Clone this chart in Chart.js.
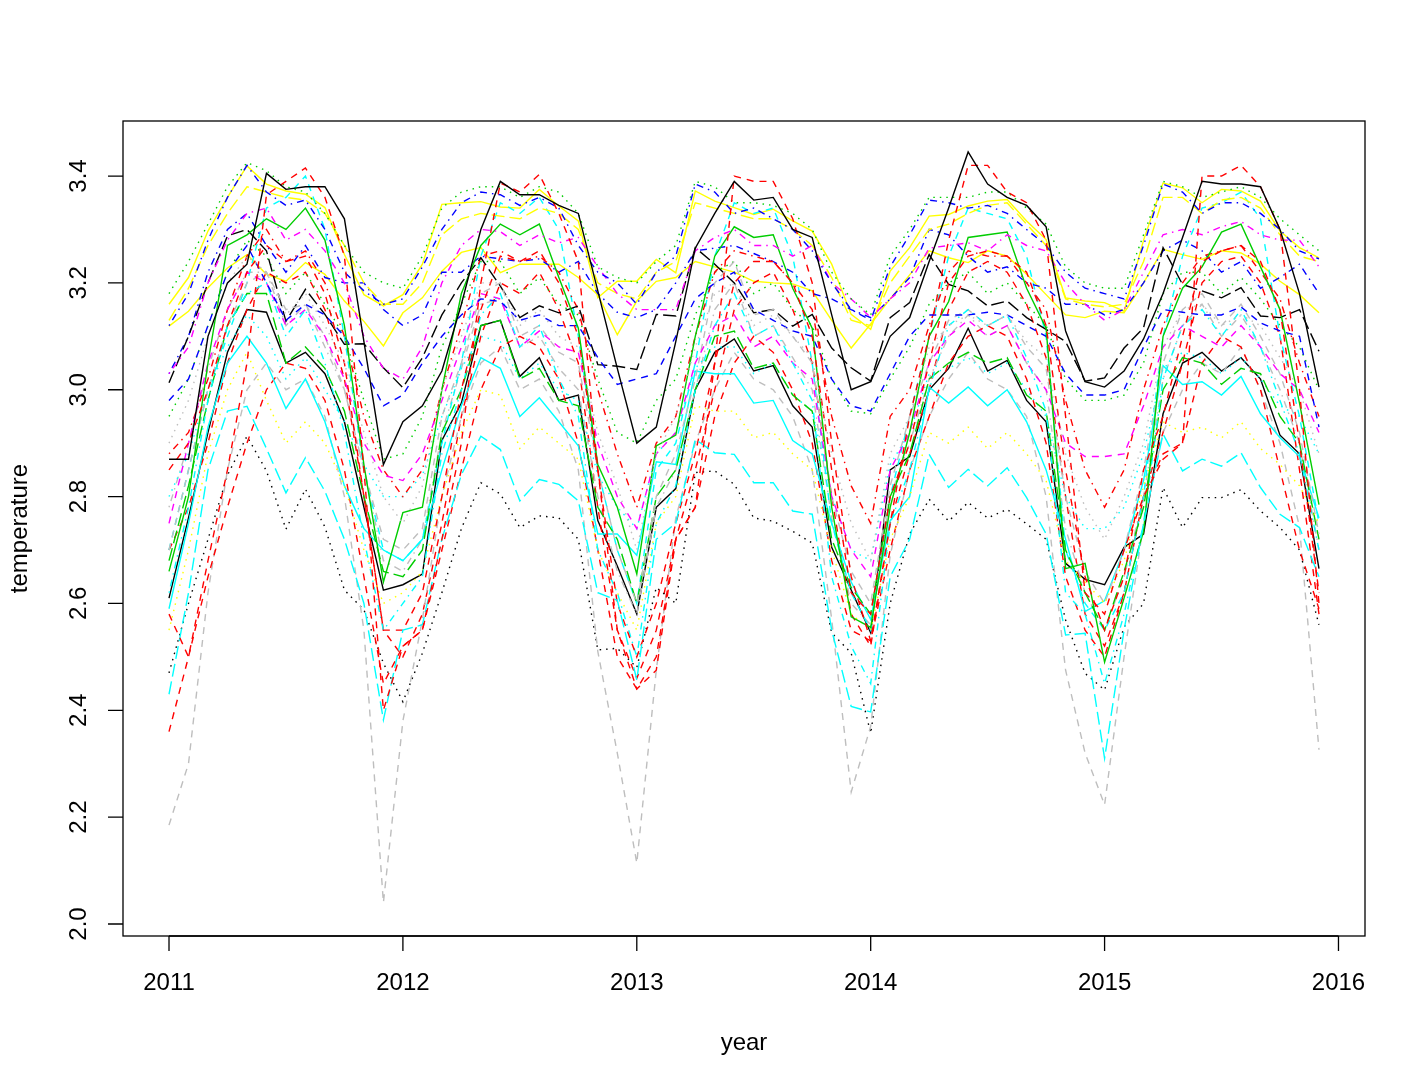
<!DOCTYPE html>
<html>
<head>
<meta charset="utf-8">
<script src="https://cdn.jsdelivr.net/npm/chart.js@4.4.1/dist/chart.umd.min.js"></script>
<style>
html,body{margin:0;padding:0;background:#fff;}
#wrap{width:1428px;height:1090px;}
</style>
</head>
<body>
<div id="wrap"><canvas id="c" width="1428" height="1090"></canvas></div>
<script>
// ---- data (monthly, Jan 2011 .. Dec 2015) ----
const startYear = 2011;
const nMonths = 60;
const xTicks = [2011, 2012, 2013, 2014, 2015, 2016];
const yTicks = [2.0, 2.2, 2.4, 2.6, 2.8, 3.0, 3.2, 3.4];
const xLabel = "year";
const yLabel = "temperature";

const blackSolidHi = [
2.87,2.87,3.10,3.20,3.235,3.405,3.375,3.38,3.38,3.32,3.09,2.86,
2.94,2.97,3.035,3.16,3.30,3.39,3.365,3.365,3.345,3.33,3.185,3.04,
2.90,2.93,3.09,3.265,3.33,3.39,3.355,3.36,3.30,3.285,3.14,3.00,
3.015,3.10,3.135,3.24,3.34,3.445,3.385,3.36,3.345,3.305,3.11,3.015,
3.005,3.035,3.095,3.18,3.285,3.39,3.385,3.385,3.38,3.30,3.18,3.005];
const blackSolidLo = [
2.61,2.76,2.92,3.07,3.15,3.145,3.05,3.07,3.03,2.94,2.78,2.625,
2.635,2.655,2.905,2.975,3.12,3.13,3.025,3.06,2.98,2.99,2.755,2.67,
2.58,2.78,2.815,3.00,3.07,3.095,3.035,3.045,2.97,2.93,2.705,2.625,
2.545,2.85,2.875,3.00,3.04,3.115,3.035,3.055,2.98,2.94,2.675,2.645,
2.635,2.705,2.73,2.955,3.05,3.07,3.035,3.06,3.02,2.915,2.88,2.665];
const greenSolid = [
2.66,2.80,3.05,3.27,3.29,3.32,3.30,3.34,3.28,3.12,2.86,2.64,
2.77,2.78,3.00,3.18,3.27,3.31,3.29,3.31,3.21,3.115,2.86,2.78,
2.655,2.895,2.915,3.10,3.25,3.305,3.285,3.29,3.19,3.115,2.78,2.575,
2.555,2.78,2.92,3.10,3.165,3.285,3.29,3.295,3.19,3.115,2.665,2.675,
2.49,2.61,2.735,3.10,3.19,3.23,3.295,3.31,3.23,3.15,2.975,2.785];
const cyanSolid = [
2.59,2.75,2.93,3.05,3.10,3.05,2.965,3.02,2.94,2.82,2.74,2.70,
2.68,2.72,2.85,2.97,3.06,3.04,2.95,2.985,2.94,2.895,2.73,2.73,
2.69,2.865,2.86,3.035,3.03,3.03,2.975,2.98,2.905,2.88,2.75,2.64,
2.57,2.755,2.80,3.005,2.975,3.005,2.97,3.00,2.94,2.85,2.72,2.585,
2.605,2.70,2.83,3.045,3.01,3.015,2.99,3.025,2.955,2.91,2.875,2.76];
const yellowSolidHi = [
3.16,3.21,3.297,3.36,3.419,3.385,3.372,3.366,3.341,3.253,3.178,3.157,
3.178,3.235,3.347,3.35,3.352,3.342,3.34,3.375,3.344,3.316,3.172,3.203,
3.203,3.244,3.219,3.372,3.353,3.341,3.328,3.338,3.316,3.297,3.235,3.141,
3.113,3.222,3.266,3.325,3.328,3.344,3.353,3.356,3.316,3.281,3.172,3.166,
3.163,3.147,3.28,3.387,3.378,3.35,3.375,3.372,3.353,3.297,3.266,3.247];
const yellowSolidLo = [
3.119,3.147,3.191,3.228,3.253,3.216,3.203,3.238,3.216,3.166,3.128,3.082,
3.144,3.172,3.222,3.257,3.266,3.219,3.235,3.235,3.235,3.21,3.178,3.103,
3.166,3.203,3.21,3.24,3.23,3.22,3.203,3.20,3.198,3.185,3.13,3.078,
3.123,3.17,3.215,3.26,3.247,3.238,3.26,3.25,3.216,3.178,3.14,3.135,
3.147,3.144,3.20,3.263,3.253,3.244,3.26,3.256,3.235,3.203,3.178,3.144];
const yellowDash = [
3.13,3.19,3.27,3.33,3.38,3.37,3.36,3.355,3.33,3.27,3.20,3.16,
3.16,3.20,3.29,3.32,3.33,3.325,3.32,3.34,3.33,3.30,3.20,3.18,
3.17,3.22,3.24,3.35,3.34,3.33,3.32,3.32,3.30,3.27,3.21,3.13,
3.12,3.20,3.25,3.30,3.31,3.33,3.345,3.35,3.31,3.27,3.17,3.16,
3.155,3.16,3.24,3.36,3.36,3.33,3.355,3.36,3.34,3.29,3.25,3.24];
const blueDotDashHi = [
3.12,3.18,3.28,3.36,3.42,3.37,3.345,3.355,3.30,3.22,3.185,3.16,
3.17,3.23,3.30,3.35,3.37,3.365,3.345,3.36,3.34,3.27,3.22,3.20,
3.16,3.22,3.25,3.385,3.37,3.33,3.34,3.32,3.30,3.26,3.20,3.15,
3.13,3.23,3.29,3.355,3.35,3.34,3.345,3.33,3.30,3.27,3.22,3.19,
3.18,3.17,3.27,3.385,3.37,3.33,3.35,3.35,3.33,3.30,3.26,3.245];
const blueDotDashMid = [
3.03,3.10,3.22,3.30,3.33,3.27,3.22,3.27,3.21,3.20,3.20,3.15,
3.12,3.14,3.22,3.22,3.25,3.245,3.24,3.245,3.22,3.24,3.18,3.145,
3.135,3.15,3.20,3.26,3.265,3.27,3.255,3.24,3.22,3.18,3.17,3.15,
3.135,3.17,3.21,3.30,3.29,3.25,3.22,3.23,3.20,3.19,3.16,3.16,
3.14,3.15,3.20,3.26,3.28,3.26,3.22,3.24,3.19,3.21,3.235,3.18];
const greenDotHi = [
3.18,3.24,3.31,3.38,3.425,3.41,3.38,3.37,3.33,3.27,3.22,3.20,
3.19,3.25,3.34,3.37,3.38,3.38,3.36,3.38,3.37,3.33,3.23,3.21,
3.20,3.24,3.27,3.39,3.38,3.35,3.35,3.345,3.33,3.30,3.22,3.17,
3.14,3.25,3.30,3.36,3.36,3.36,3.37,3.37,3.34,3.31,3.23,3.20,
3.19,3.19,3.29,3.39,3.38,3.36,3.37,3.38,3.36,3.32,3.29,3.26];
const greenDotMid = [
2.95,3.02,3.12,3.22,3.28,3.25,3.18,3.22,3.16,3.10,2.98,2.87,
2.88,2.95,3.08,3.16,3.24,3.24,3.18,3.21,3.16,3.14,3.02,2.92,
2.90,2.98,3.02,3.14,3.22,3.24,3.18,3.20,3.15,3.12,3.02,2.96,
2.955,3.02,3.08,3.16,3.20,3.22,3.18,3.20,3.16,3.12,3.02,2.98,
2.98,2.99,3.05,3.18,3.22,3.22,3.18,3.21,3.17,3.12,3.08,3.00];
const blackDash = [
3.013,3.10,3.20,3.288,3.30,3.26,3.128,3.188,3.141,3.085,3.086,3.041,
3.004,3.06,3.14,3.20,3.247,3.194,3.135,3.157,3.144,3.157,3.047,3.044,
3.038,3.141,3.138,3.266,3.235,3.20,3.144,3.15,3.119,3.141,3.078,3.041,
3.016,3.135,3.163,3.253,3.197,3.185,3.157,3.166,3.135,3.113,3.09,3.016,
3.022,3.078,3.116,3.266,3.197,3.185,3.172,3.191,3.138,3.135,3.15,3.072];
const magentaDotDash = [
3.03,3.08,3.20,3.28,3.33,3.34,3.28,3.30,3.26,3.20,3.10,3.04,
3.02,3.08,3.20,3.27,3.30,3.296,3.27,3.29,3.275,3.285,3.23,3.18,
3.15,3.15,3.15,3.26,3.285,3.30,3.27,3.27,3.25,3.27,3.20,3.17,
3.135,3.17,3.20,3.265,3.27,3.275,3.26,3.29,3.27,3.26,3.20,3.16,
3.13,3.15,3.22,3.29,3.30,3.29,3.305,3.315,3.29,3.28,3.28,3.23];
const blueDash = [
2.98,3.02,3.12,3.22,3.27,3.20,3.13,3.16,3.14,3.10,3.04,2.97,
2.99,3.05,3.10,3.14,3.17,3.165,3.13,3.14,3.12,3.12,3.06,3.01,
3.02,3.03,3.10,3.17,3.20,3.22,3.15,3.13,3.11,3.10,3.02,2.97,
2.96,3.03,3.10,3.14,3.14,3.14,3.145,3.14,3.12,3.10,3.03,2.99,
2.99,3.00,3.08,3.15,3.145,3.14,3.14,3.155,3.125,3.11,3.10,2.93];
const redDashHi = [
2.58,2.50,2.68,2.85,3.05,3.365,3.39,3.415,3.36,3.25,2.85,2.40,
2.52,2.55,2.72,2.90,3.20,3.387,3.37,3.403,3.33,3.24,2.85,2.55,
2.44,2.475,2.72,2.78,3.05,3.40,3.39,3.39,3.32,3.20,2.90,2.65,
2.53,2.75,2.95,3.10,3.28,3.42,3.42,3.37,3.35,3.28,2.95,2.62,
2.58,2.70,2.80,2.87,2.90,3.40,3.40,3.42,3.38,3.30,3.00,2.60];
const redDashMid = [
2.85,2.90,3.00,3.12,3.22,3.27,3.24,3.25,3.18,3.05,2.80,2.55,
2.55,2.62,2.80,3.00,3.15,3.25,3.24,3.26,3.20,3.10,2.85,2.60,
2.50,2.60,2.75,2.88,3.05,3.20,3.24,3.24,3.20,3.10,2.85,2.62,
2.58,2.80,2.90,3.05,3.20,3.25,3.26,3.25,3.22,3.12,2.85,2.65,
2.55,2.65,2.85,2.95,3.10,3.24,3.26,3.27,3.24,3.15,2.90,2.62];
const redDashLow = [
2.36,2.50,2.65,2.78,2.90,3.00,3.05,3.04,2.98,2.85,2.65,2.45,
2.52,2.55,2.70,2.85,3.00,3.08,3.10,3.08,3.02,2.90,2.70,2.50,
2.44,2.50,2.72,2.78,2.95,3.05,3.10,3.07,3.00,2.90,2.68,2.55,
2.53,2.70,2.85,2.95,3.05,3.10,3.12,3.10,3.02,2.90,2.65,2.55,
2.50,2.62,2.80,2.88,2.90,3.05,3.10,3.08,3.00,2.85,2.70,2.59];
const redLongDash = [
2.70,2.78,2.90,3.05,3.15,3.22,3.20,3.22,3.15,3.02,2.80,2.55,
2.50,2.58,2.75,2.95,3.10,3.20,3.18,3.22,3.15,3.05,2.78,2.55,
2.46,2.55,2.72,2.85,3.00,3.15,3.20,3.22,3.15,3.05,2.80,2.58,
2.52,2.75,2.88,3.00,3.15,3.22,3.24,3.22,3.16,3.06,2.80,2.58,
2.52,2.62,2.80,2.92,3.05,3.20,3.24,3.25,3.20,3.10,2.85,2.58];
const redDotDash = [
2.88,2.92,3.02,3.15,3.25,3.30,3.24,3.26,3.20,3.10,2.95,2.85,
2.80,2.85,3.00,3.12,3.25,3.26,3.24,3.25,3.22,3.15,3.00,2.88,
2.78,2.90,2.95,3.10,3.22,3.26,3.25,3.24,3.20,3.15,2.95,2.82,
2.75,2.95,3.00,3.12,3.22,3.26,3.25,3.25,3.20,3.15,2.98,2.85,
2.78,2.85,3.00,3.12,3.20,3.25,3.26,3.27,3.22,3.17,3.05,2.95];
const grayDashLow = [
2.185,2.30,2.62,2.85,3.00,3.05,3.00,3.02,2.95,2.80,2.55,2.04,
2.38,2.57,2.80,2.95,3.05,3.08,3.00,3.02,2.96,2.85,2.51,2.32,
2.114,2.475,2.76,2.90,3.00,3.07,3.02,3.00,2.95,2.85,2.57,2.247,
2.37,2.69,2.85,2.95,3.02,3.07,3.02,3.00,2.95,2.80,2.475,2.32,
2.223,2.50,2.75,2.92,3.00,3.05,3.03,3.08,3.00,2.90,2.743,2.326];
const grayDashMid = [
2.70,2.85,3.00,3.12,3.20,3.22,3.15,3.16,3.10,3.00,2.85,2.72,
2.70,2.74,2.95,3.05,3.18,3.20,3.10,3.12,3.07,3.05,2.85,2.70,
2.60,2.80,2.88,3.02,3.20,3.24,3.14,3.15,3.10,3.05,2.80,2.66,
2.60,2.82,2.95,3.05,3.13,3.15,3.12,3.14,3.08,3.04,2.80,2.66,
2.60,2.70,2.85,3.05,3.15,3.18,3.12,3.16,3.10,3.03,2.92,2.73];
const grayDotMid = [
2.90,2.98,3.10,3.20,3.25,3.22,3.14,3.18,3.12,3.05,2.92,2.80,
2.75,2.82,3.00,3.10,3.20,3.20,3.12,3.15,3.10,3.08,2.92,2.82,
2.70,2.88,2.95,3.08,3.18,3.20,3.12,3.14,3.10,3.06,2.88,2.75,
2.68,2.88,2.95,3.08,3.12,3.14,3.12,3.14,3.09,3.06,2.88,2.78,
2.72,2.80,2.90,3.08,3.15,3.16,3.12,3.14,3.12,3.06,3.00,2.88];
const grayDotDash = [
2.78,2.90,3.04,3.15,3.22,3.22,3.12,3.16,3.08,3.00,2.85,2.68,
2.66,2.72,2.92,3.04,3.16,3.17,3.08,3.10,3.04,3.00,2.80,2.66,
2.58,2.78,2.85,3.00,3.15,3.20,3.10,3.12,3.06,3.00,2.76,2.60,
2.56,2.80,2.90,3.02,3.10,3.14,3.10,3.12,3.05,3.00,2.74,2.62,
2.55,2.65,2.80,3.02,3.12,3.16,3.10,3.14,3.08,3.00,2.90,2.70];
const blackDot = [
2.47,2.60,2.72,2.84,2.913,2.848,2.739,2.814,2.743,2.625,2.588,2.488,
2.416,2.507,2.62,2.74,2.826,2.805,2.742,2.764,2.76,2.72,2.513,2.516,
2.48,2.63,2.60,2.845,2.848,2.823,2.76,2.754,2.735,2.713,2.545,2.507,
2.357,2.60,2.73,2.795,2.754,2.789,2.76,2.776,2.749,2.72,2.569,2.469,
2.438,2.556,2.60,2.817,2.742,2.798,2.798,2.813,2.773,2.742,2.70,2.56];
const cyanLongDash = [
2.43,2.62,2.85,2.96,2.969,2.89,2.807,2.873,2.81,2.72,2.60,2.382,
2.55,2.56,2.72,2.841,2.913,2.888,2.792,2.832,2.823,2.792,2.62,2.606,
2.457,2.72,2.75,2.907,2.882,2.879,2.826,2.826,2.773,2.767,2.55,2.407,
2.397,2.65,2.72,2.879,2.817,2.851,2.82,2.854,2.798,2.73,2.541,2.544,
2.31,2.55,2.75,2.917,2.848,2.87,2.857,2.882,2.817,2.767,2.742,2.65];
const cyanDashHi = [
2.70,2.85,3.00,3.10,3.20,3.34,3.36,3.40,3.30,3.10,2.85,2.70,
2.68,2.72,2.90,3.05,3.25,3.35,3.33,3.36,3.30,3.10,2.85,2.70,
2.60,2.85,2.90,3.05,3.25,3.35,3.33,3.34,3.25,3.05,2.75,2.62,
2.55,2.80,2.95,3.10,3.25,3.34,3.33,3.32,3.25,3.10,2.70,2.60,
2.55,2.62,2.80,3.10,3.25,3.34,3.35,3.37,3.32,3.10,2.95,2.75];
const cyanDotDash = [
2.62,2.78,2.98,3.12,3.18,3.20,3.10,3.15,3.05,2.92,2.72,2.55,
2.60,2.65,2.88,3.00,3.14,3.18,3.08,3.12,3.02,2.95,2.70,2.62,
2.50,2.75,2.82,3.00,3.12,3.18,3.10,3.12,3.05,2.98,2.65,2.52,
2.45,2.75,2.85,3.00,3.12,3.15,3.12,3.14,3.06,2.96,2.62,2.58,
2.45,2.58,2.75,3.02,3.12,3.15,3.10,3.15,3.08,2.98,2.88,2.70];
const cyanDot = [
2.80,2.88,3.00,3.08,3.14,3.10,3.02,3.06,3.00,2.94,2.86,2.80,
2.80,2.84,2.95,3.04,3.10,3.09,3.02,3.05,3.00,2.98,2.84,2.78,
2.74,2.88,2.92,3.04,3.08,3.08,3.03,3.05,2.99,2.96,2.80,2.70,
2.68,2.86,2.92,3.03,3.04,3.06,3.03,3.05,3.00,2.95,2.80,2.74,
2.74,2.78,2.88,3.04,3.07,3.06,3.03,3.06,3.02,2.97,2.95,2.88];
const yellowDot = [
2.55,2.70,2.88,3.00,3.07,2.98,2.90,2.94,2.90,2.82,2.70,2.60,
2.62,2.66,2.80,2.92,3.00,2.99,2.89,2.93,2.90,2.87,2.70,2.62,
2.55,2.75,2.80,2.97,2.96,2.96,2.91,2.92,2.88,2.85,2.70,2.58,
2.55,2.72,2.80,2.92,2.90,2.93,2.89,2.92,2.88,2.83,2.68,2.64,
2.60,2.68,2.82,2.94,2.92,2.93,2.91,2.94,2.89,2.86,2.82,2.75];
const greenLongDash = [
2.68,2.82,2.98,3.12,3.18,3.18,3.05,3.08,3.04,2.96,2.80,2.66,
2.65,2.70,2.92,3.00,3.12,3.13,3.02,3.04,2.98,2.97,2.78,2.72,
2.60,2.80,2.85,3.00,3.10,3.11,3.04,3.05,2.99,2.96,2.72,2.63,
2.58,2.80,2.88,3.02,3.05,3.07,3.05,3.06,2.99,2.96,2.70,2.62,
2.55,2.66,2.78,3.00,3.06,3.05,3.01,3.04,3.03,2.95,2.90,2.72];
const magentaDash = [
2.75,2.90,3.05,3.15,3.22,3.20,3.12,3.15,3.10,3.02,2.90,2.84,
2.83,2.88,2.98,3.08,3.18,3.17,3.08,3.11,3.08,3.07,2.90,2.80,
2.74,2.88,2.92,3.05,3.12,3.14,3.08,3.10,3.05,3.02,2.80,2.70,
2.65,2.85,2.92,3.05,3.10,3.13,3.10,3.12,3.05,3.00,2.90,2.875,
2.875,2.88,2.97,3.08,3.12,3.10,3.08,3.12,3.08,3.03,3.00,2.92];

// series: [label, values, colour, dash]
const SOLID = [], DASH = [7,6], DOT = [1.5,5], DOTDASH = [1.5,5,7,5], LONGDASH = [13,5];
const series = [
  ["s1", blackSolidHi, "#000000", SOLID],
  ["s2", redDashHi, "#FF0000", DASH],
  ["s3", greenDotHi, "#00CD00", DOT],
  ["s4", blueDotDashHi, "#0000FF", DOTDASH],
  ["s5", cyanLongDash, "#00FFFF", LONGDASH],
  ["s6", magentaDotDash, "#FF00FF", DOTDASH],
  ["s7", yellowDash, "#FFFF00", LONGDASH],
  ["s8", grayDotMid, "#BEBEBE", DOT],
  ["s9", redDashMid, "#FF0000", DASH],
  ["s10", greenSolid, "#00CD00", SOLID],
  ["s11", blueDash, "#0000FF", DASH],
  ["s12", cyanDotDash, "#00FFFF", DOTDASH],
  ["s13", magentaDash, "#FF00FF", DASH],
  ["s14", yellowDot, "#FFFF00", DOT],
  ["s15", grayDashMid, "#BEBEBE", DASH],
  ["s16", blackDash, "#000000", LONGDASH],
  ["s17", redDotDash, "#FF0000", DOTDASH],
  ["s18", greenLongDash, "#00CD00", LONGDASH],
  ["s19", blueDotDashMid, "#0000FF", DOTDASH],
  ["s20", cyanSolid, "#00FFFF", SOLID],
  ["s21", cyanDashHi, "#00FFFF", DASH],
  ["s22", redDashLow, "#FF0000", DASH],
  ["s23", grayDashLow, "#BEBEBE", DASH],
  ["s24", blackDot, "#000000", DOT],
  ["s25", greenDotMid, "#00CD00", DOT],
  ["s26", cyanDot, "#00FFFF", DOT],
  ["s27", grayDotDash, "#BEBEBE", DOTDASH],
  ["s28", redLongDash, "#FF0000", DASH],
  ["s29", blackSolidLo, "#000000", SOLID],
  ["s30", yellowSolidLo, "#FFFF00", SOLID],
  ["s31", yellowSolidHi, "#FFFF00", SOLID]
];

const datasets = series.map(([label, vals, col, dash]) => ({
  label,
  data: vals.map((v, i) => ({x: startYear + i / 12, y: v})),
  borderColor: col,
  borderDash: dash,
  borderWidth: 1.4,
  pointRadius: 0,
  tension: 0,
  fill: false
}));

const FONT = '24px "Liberation Sans", Arial, Helvetica, sans-serif';

const rAxes = {
  id: 'rAxes',
  afterDraw(chart) {
    const {ctx, chartArea: a, scales: {x, y}} = chart;
    ctx.save();
    ctx.strokeStyle = '#000';
    ctx.lineWidth = 1.3;
    ctx.setLineDash([]);
    ctx.strokeRect(a.left, a.top, a.right - a.left, a.bottom - a.top);
    ctx.fillStyle = '#000';
    ctx.font = FONT;
    // x axis
    ctx.beginPath();
    ctx.moveTo(x.getPixelForValue(xTicks[0]), a.bottom);
    ctx.lineTo(x.getPixelForValue(xTicks[xTicks.length - 1]), a.bottom);
    xTicks.forEach(t => {
      const px = x.getPixelForValue(t);
      ctx.moveTo(px, a.bottom);
      ctx.lineTo(px, a.bottom + 15);
    });
    ctx.stroke();
    ctx.textAlign = 'center';
    ctx.textBaseline = 'middle';
    xTicks.forEach(t => ctx.fillText(String(t), x.getPixelForValue(t), 983));
    // y axis
    ctx.beginPath();
    yTicks.forEach(t => {
      const py = y.getPixelForValue(t);
      ctx.moveTo(a.left, py);
      ctx.lineTo(a.left - 15, py);
    });
    ctx.stroke();
    yTicks.forEach(t => {
      const py = y.getPixelForValue(t);
      ctx.save();
      ctx.translate(79, py);
      ctx.rotate(-Math.PI / 2);
      ctx.fillText(t.toFixed(1), 0, 0);
      ctx.restore();
    });
    // axis titles
    ctx.fillText(xLabel, (a.left + a.right) / 2, 1043);
    ctx.save();
    ctx.translate(20, (a.top + a.bottom) / 2);
    ctx.rotate(-Math.PI / 2);
    ctx.fillText(yLabel, 0, 0);
    ctx.restore();
    ctx.restore();
  }
};

new Chart(document.getElementById('c'), {
  type: 'line',
  data: {datasets},
  options: {
    responsive: false,
    animation: false,
    events: [],
    layout: {padding: {left: 123, top: 121, right: 63, bottom: 154}},
    plugins: {legend: {display: false}, tooltip: {enabled: false}},
    scales: {
      x: {type: 'linear', display: false, min: 2010.8033, max: 2016.1134},
      y: {type: 'linear', display: false, min: 1.9775, max: 3.503}
    }
  },
  plugins: [rAxes]
});
</script>
</body>
</html>
